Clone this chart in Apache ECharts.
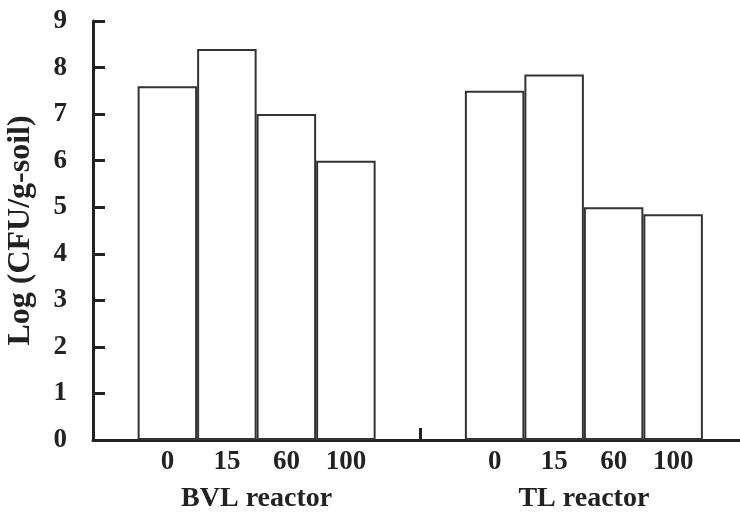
<!DOCTYPE html>
<html>
<head>
<meta charset="utf-8">
<script src="https://cdn.jsdelivr.net/npm/echarts@6/dist/echarts.min.js"></script>
<style>
  html, body { margin: 0; padding: 0; background: #fff; }
  #chart { width: 740px; height: 514px; }
</style>
</head>
<body>
<div id="chart"></div>
<script>
// data
var doses = ["0", "15", "60", "100"];
var groups = ["BVL reactor", "TL reactor"];
var bvlValues = [7.6, 8.4, 7.0, 6.0];
var tlValues = [7.5, 7.85, 5.0, 4.85];
var yTicks = [0, 1, 2, 3, 4, 5, 6, 7, 8, 9];

// the x axis is split into 22 half-bar slots; each group starts at a slot
var SLOTS = 22;
var groupStart = [2, 13];
var slotWidth = 29.75;

var slotLabels = [];
var slotValues = [];
for (var i = 0; i < SLOTS; i++) { slotLabels.push(""); slotValues.push(null); }
[bvlValues, tlValues].forEach(function (vals, g) {
  vals.forEach(function (v, k) {
    var s = groupStart[g] + k * 2;
    slotLabels[s] = doses[k];
    slotValues[s] = v;
  });
});

var font = '"Liberation Serif", "Times New Roman", serif';
var ink = "#222";

var chart = echarts.init(document.getElementById("chart"));
chart.setOption({
  animation: false,
  backgroundColor: "#fff",
  grid: {
    left: 93, top: 21, width: SLOTS * slotWidth, bottom: 74,
    containLabel: false, outerBoundsMode: "none"
  },
  xAxis: [
    {
      type: "category",
      position: "bottom",
      data: slotLabels,
      axisLine: { lineStyle: { color: ink, width: 3 } },
      axisTick: { show: false },
      axisLabel: {
        interval: 0, margin: 9, color: ink,
        fontFamily: font, fontWeight: "bold", fontSize: 27
      }
    },
    {
      type: "category",
      position: "bottom",
      data: groups,
      axisLine: { show: false },
      axisTick: { show: true, inside: true, length: 12, lineStyle: { color: ink, width: 3 } },
      axisLabel: {
        margin: 45, color: ink,
        fontFamily: font, fontWeight: "bold", fontSize: 28
      }
    }
  ],
  yAxis: {
    type: "value",
    min: 0,
    max: yTicks[yTicks.length - 1],
    interval: 1,
    name: "Log (CFU/g-soil)",
    nameLocation: "middle",
    nameGap: 56,
    nameMoveOverlap: false,
    nameTextStyle: { color: ink, fontFamily: font, fontWeight: "bold", fontSize: 32 },
    axisLine: { show: true, lineStyle: { color: ink, width: 3 } },
    axisTick: { show: true, inside: true, length: 12, lineStyle: { color: ink, width: 3 } },
    splitLine: { show: false },
    axisLabel: {
      margin: 26, color: ink,
      fontFamily: font, fontWeight: "bold", fontSize: 27
    }
  },
  series: [
    {
      type: "bar",
      xAxisIndex: 0,
      data: slotValues,
      barWidth: slotWidth * 2,
      itemStyle: { color: "#fff", borderColor: "#333", borderWidth: 2 }
    }
  ]
});
</script>
</body>
</html>
